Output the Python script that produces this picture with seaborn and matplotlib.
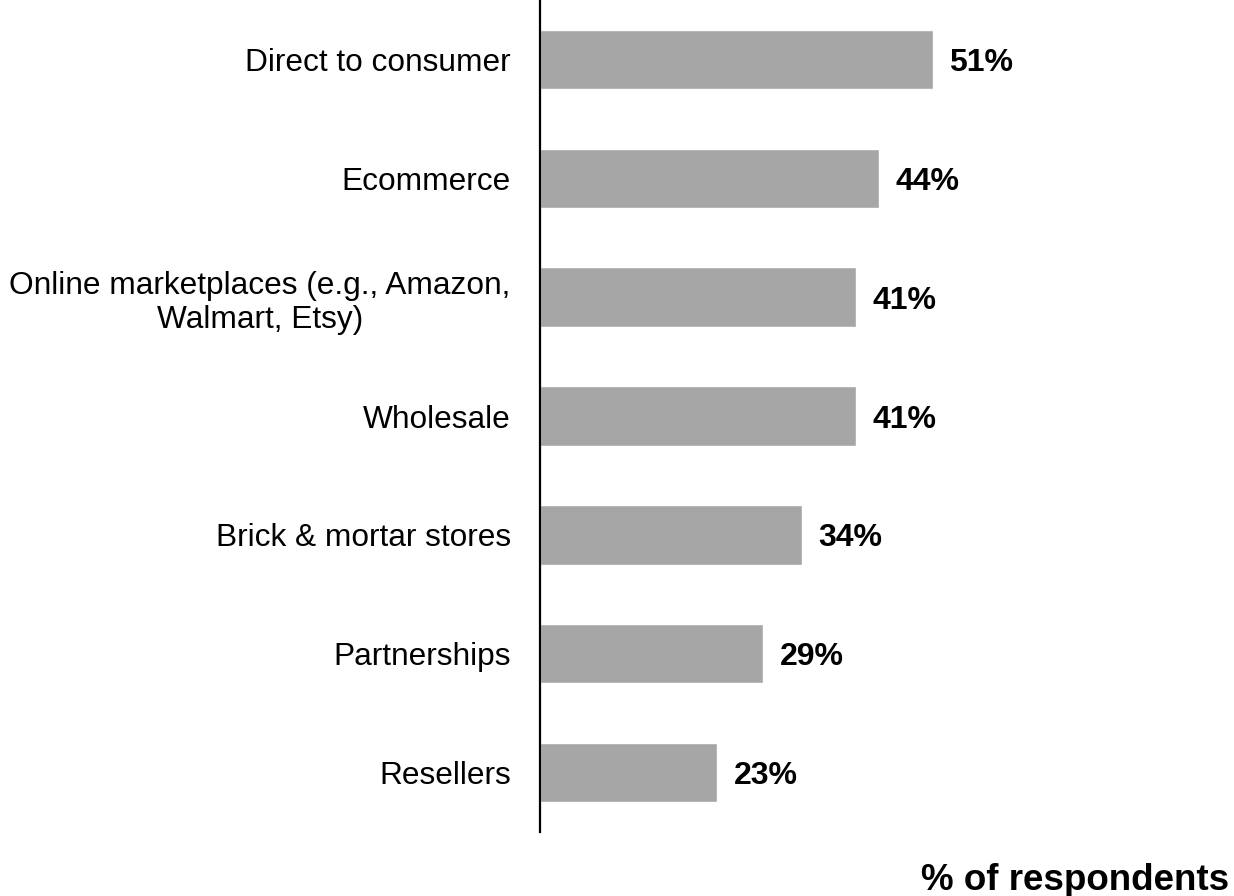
import matplotlib
matplotlib.use("Agg")
import matplotlib.pyplot as plt
import seaborn as sns
import pandas as pd

categories = [
    "Direct to consumer",
    "Ecommerce",
    "Online marketplaces (e.g., Amazon,\nWalmart, Etsy)",
    "Wholesale",
    "Brick & mortar stores",
    "Partnerships",
    "Resellers",
]
values = [51, 44, 41, 41, 34, 29, 23]

df = pd.DataFrame({"channel": categories, "pct": values})

sns.set_style("white")
plt.rcParams["font.family"] = ["Liberation Sans", "DejaVu Sans"]
plt.rcParams["text.color"] = "black"
plt.rcParams["ytick.color"] = "black"

fig = plt.figure(figsize=(12.34, 8.96), dpi=100)
ax = fig.add_axes([540 / 1234, 1 - 832 / 896, 462 / 1234, 832 / 896])

sns.barplot(data=df, x="pct", y="channel", color="#a6a6a6", width=0.5,
            saturation=1, ax=ax, orient="h")

ax.set_xlim(0, 60)
ax.set_ylim(6.5, -0.5)
ax.set_xlabel("")
ax.set_ylabel("")
ax.set_xticks([])
for s in ["top", "right", "bottom"]:
    ax.spines[s].set_visible(False)
ax.spines["left"].set_linewidth(1.6)
ax.spines["left"].set_color("black")
ax.tick_params(axis="y", length=0, pad=21, labelsize=22.8, labelcolor="black")
for lab in ax.get_yticklabels():
    lab.set_horizontalalignment("right")
    lab.set_multialignment("center")

for i, v in enumerate(values):
    ax.annotate(f"{v}%", xy=(v, i), xytext=(12, 0), textcoords="offset points",
                ha="left", va="center_baseline", fontsize=23, fontweight="bold",
                color="black")

fig.text(1229 / 1234, 1 - 890 / 896, "% of respondents", ha="right",
         va="baseline", fontsize=26.5, fontweight="bold", color="black")

fig.savefig("out.png", dpi=100)
